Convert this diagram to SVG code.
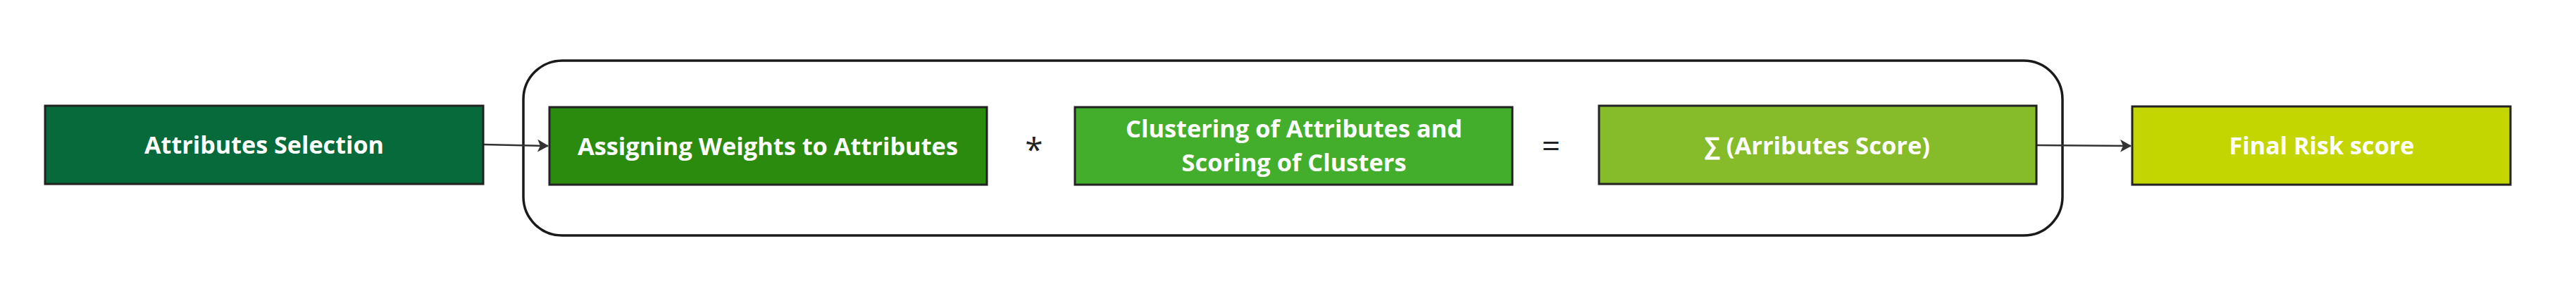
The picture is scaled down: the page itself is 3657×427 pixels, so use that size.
<svg xmlns="http://www.w3.org/2000/svg" width="3657" height="427" viewBox="0 0 3657 427">
<defs>
<style>
.box{stroke:#222;stroke-width:3}
.lbl{font-family:"Open Sans","Liberation Sans",sans-serif;font-weight:700;font-size:34px;fill:#fff;text-anchor:middle}
.op{font-family:"Open Sans","Liberation Sans",sans-serif;font-size:46px;fill:#222;text-anchor:middle}
.conn{stroke:#333;stroke-width:2.5;fill:none}
</style>
<marker id="ah" markerWidth="16" markerHeight="18" refX="15" refY="9" orient="auto" markerUnits="userSpaceOnUse">
<path d="M0,0 L16,9 L0,18 L4,9 Z" fill="#333"/>
</marker>
</defs>
<rect width="3657" height="427" fill="#fff"/>
<g id="container">
<rect x="743" y="86" width="2185" height="248" rx="55" ry="55" fill="none" stroke="#1a1a1a" stroke-width="3.5"/>
</g>
<g id="connectors">
<line class="conn" x1="687" y1="205" x2="778" y2="207" marker-end="url(#ah)"/>
<line class="conn" x1="2892" y1="206" x2="3025" y2="207" marker-end="url(#ah)"/>
</g>
<g id="n-attributes-selection">
<rect class="box" x="64" y="150" width="622" height="111" fill="#066a3a"/>
<text class="lbl" x="375" y="218" textLength="340" lengthAdjust="spacingAndGlyphs">Attributes Selection</text>
</g>
<g id="n-assigning-weights">
<rect class="box" x="780" y="152" width="621" height="110" fill="#2a8b0f"/>
<text class="lbl" x="1090" y="220" textLength="540" lengthAdjust="spacingAndGlyphs">Assigning Weights to Attributes</text>
</g>
<g id="op-multiply">
<text class="op" x="1468" y="229">*</text>
</g>
<g id="n-clustering">
<rect class="box" x="1526" y="152" width="621" height="110" fill="#43ae2c"/>
<text class="lbl" x="1837" y="195" textLength="478" lengthAdjust="spacingAndGlyphs">Clustering of Attributes and</text>
<text class="lbl" x="1837" y="243" textLength="319" lengthAdjust="spacingAndGlyphs">Scoring of Clusters</text>
</g>
<g id="op-equals">
<text class="op" x="2202" y="223">=</text>
</g>
<g id="n-sum">
<rect class="box" x="2270" y="150" width="621" height="111" fill="#86bb29"/>
<text class="lbl" x="2580" y="219" textLength="320" lengthAdjust="spacingAndGlyphs">∑ (Arributes Score)</text>
</g>
<g id="n-final">
<rect class="box" x="3027" y="151" width="537" height="111" fill="#c4d601"/>
<text class="lbl" x="3296" y="219" textLength="263" lengthAdjust="spacingAndGlyphs">Final Risk score</text>
</g>
</svg>
